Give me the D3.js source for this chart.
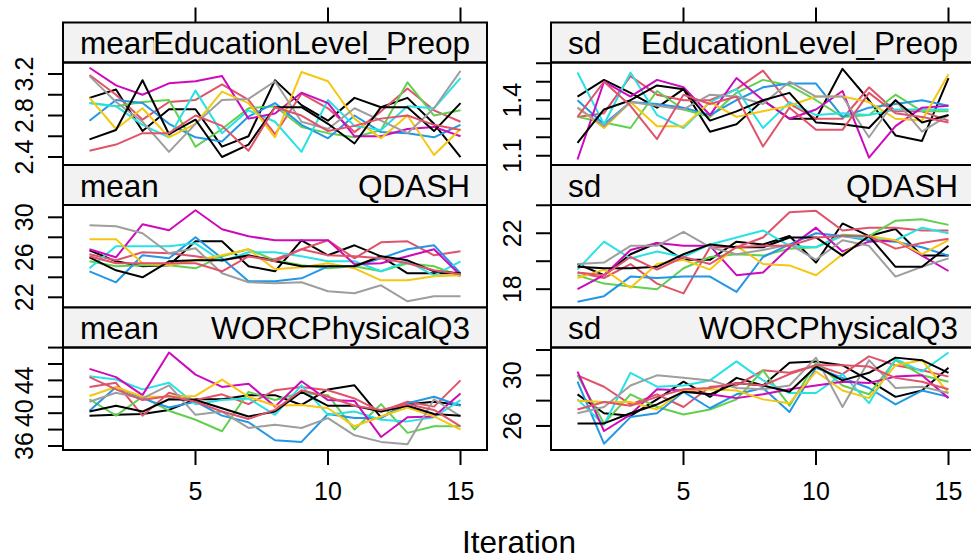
<!DOCTYPE html>
<html lang="en">
<head>
<meta charset="UTF-8">
<title>mice trace plot</title>
<script src="https://d3js.org/d3.v7.min.js"></script>
<style>
  body { margin: 0; background: #fff; }
  text { font-family: "Liberation Sans", Arial, Helvetica, sans-serif; fill: #000; }
</style>
</head>
<body>
<div id="chart"></div>
<script>
// ---- data ----
const iterations = d3.range(1, 16);
const lineColors = ["#000000", "#DF536B", "#61D04F", "#2297E6", "#28E2E5",
                    "#CD0BBC", "#F5C710", "#9E9E9E", "#000000", "#DF536B"];
const statNames = ["mean", "sd"];
const varNames = ["EducationLevel_Preop", "QDASH", "WORCPhysicalQ3"];
const xTicks = [5, 10, 15];

// one array per imputation (10), 15 iterations each
const meanEdu = [
  [2.97, 3.05, 2.65, 2.86, 2.86, 2.50, 2.60, 3.14, 2.90, 2.75, 2.97, 2.88, 2.97, 2.72, 2.40],
  [3.19, 3.00, 2.76, 2.93, 2.95, 3.10, 2.95, 2.62, 3.01, 2.87, 2.64, 2.84, 3.06, 2.85, 2.74],
  [2.92, 2.89, 2.93, 2.95, 2.50, 2.67, 2.87, 2.89, 2.69, 2.63, 2.59, 2.66, 3.12, 2.80, 2.85],
  [2.75, 2.95, 2.92, 2.72, 2.59, 2.55, 2.79, 2.92, 2.71, 2.58, 2.80, 2.64, 2.63, 2.59, 2.71],
  [2.92, 2.89, 2.71, 2.59, 3.04, 2.63, 2.85, 2.74, 2.45, 2.95, 2.70, 2.66, 2.89, 2.87, 3.16],
  [3.26, 3.09, 3.00, 3.11, 3.13, 3.18, 2.77, 2.82, 3.02, 2.92, 2.60, 2.60, 2.67, 2.69, 2.60],
  [2.97, 2.67, 2.87, 2.59, 2.72, 3.03, 2.92, 2.59, 3.22, 3.13, 2.77, 2.58, 2.80, 2.42, 2.67],
  [3.18, 2.93, 2.74, 2.45, 2.72, 2.95, 2.96, 3.13, 2.74, 2.67, 2.87, 2.75, 2.63, 2.87, 3.23],
  [2.57, 2.66, 3.14, 2.62, 2.76, 2.40, 2.52, 2.88, 2.88, 2.72, 2.53, 2.88, 2.88, 2.65, 2.92],
  [2.46, 2.52, 2.63, 2.63, 2.80, 2.70, 2.46, 2.88, 2.80, 2.65, 2.70, 2.77, 2.80, 2.71, 2.66]
];
const sdEdu = [
  [1.42, 1.51, 1.44, 1.36, 1.46, 1.23, 1.27, 1.40, 1.30, 1.30, 1.57, 1.40, 1.21, 1.18, 1.52],
  [1.31, 1.33, 1.53, 1.43, 1.40, 1.40, 1.46, 1.56, 1.38, 1.30, 1.30, 1.47, 1.34, 1.34, 1.29],
  [1.31, 1.28, 1.25, 1.45, 1.35, 1.31, 1.44, 1.51, 1.48, 1.40, 1.31, 1.32, 1.43, 1.34, 1.34],
  [1.40, 1.27, 1.39, 1.38, 1.36, 1.32, 1.40, 1.47, 1.49, 1.49, 1.31, 1.36, 1.38, 1.40, 1.37],
  [1.55, 1.27, 1.55, 1.32, 1.25, 1.39, 1.46, 1.25, 1.39, 1.32, 1.33, 1.32, 1.35, 1.35, 1.35],
  [1.08, 1.50, 1.42, 1.51, 1.47, 1.32, 1.52, 1.40, 1.30, 1.35, 1.45, 1.09, 1.26, 1.36, 1.37],
  [1.36, 1.25, 1.39, 1.26, 1.26, 1.39, 1.31, 1.34, 1.37, 1.42, 1.42, 1.39, 1.30, 1.29, 1.54],
  [1.36, 1.26, 1.39, 1.37, 1.35, 1.43, 1.42, 1.38, 1.50, 1.42, 1.42, 1.20, 1.40, 1.23, 1.32],
  [1.17, 1.35, 1.40, 1.48, 1.46, 1.29, 1.34, 1.40, 1.44, 1.28, 1.27, 1.25, 1.40, 1.28, 1.32],
  [1.31, 1.50, 1.37, 1.19, 1.43, 1.38, 1.42, 1.15, 1.36, 1.24, 1.24, 1.44, 1.33, 1.31, 1.28]
];
const meanQdash = [
  [26.7, 25.6, 25.1, 25.2, 27.6, 27.6, 25.1, 24.6, 27.7, 26.2, 27.2, 26.1, 24.4, 24.4, 24.4],
  [26.3, 25.7, 26.5, 26.4, 26.1, 25.7, 26.1, 25.8, 26.8, 27.7, 25.9, 27.5, 27.6, 26.2, 26.6],
  [25.6, 25.1, 25.2, 25.2, 24.9, 26.1, 26.8, 25.7, 25.2, 24.9, 25.1, 24.6, 25.4, 25.1, 24.1],
  [24.6, 23.5, 26.2, 25.9, 28.0, 25.9, 23.6, 23.6, 23.9, 25.1, 25.1, 25.9, 26.8, 27.2, 24.4],
  [24.9, 27.1, 27.1, 27.1, 27.4, 25.6, 26.5, 26.5, 26.1, 25.6, 25.6, 24.6, 25.6, 24.2, 25.6],
  [26.8, 26.0, 29.3, 28.7, 30.7, 28.8, 28.1, 27.7, 27.7, 27.7, 25.3, 25.4, 26.1, 26.8, 24.2],
  [27.8, 27.8, 25.4, 25.2, 25.7, 26.2, 26.8, 24.8, 25.0, 25.4, 24.9, 23.7, 23.7, 24.1, 24.2],
  [29.2, 29.1, 28.4, 26.4, 26.9, 24.4, 23.5, 23.4, 23.5, 22.6, 22.4, 23.2, 21.6, 22.1, 22.1],
  [26.0, 24.7, 24.0, 25.6, 25.7, 25.7, 26.2, 25.6, 25.1, 25.1, 25.1, 26.1, 25.7, 24.6, 24.4],
  [26.1, 25.4, 25.4, 25.4, 25.4, 24.6, 26.1, 25.6, 26.8, 26.2, 26.1, 25.9, 25.4, 24.7, 24.3]
];
const sdQdash = [
  [19.8, 19.0, 20.5, 21.3, 20.1, 20.1, 21.4, 21.2, 21.8, 19.9, 22.7, 21.8, 22.3, 20.4, 20.4],
  [19.2, 18.8, 19.8, 18.4, 17.7, 21.0, 21.0, 21.7, 23.5, 23.6, 22.2, 22.4, 22.4, 22.2, 22.2],
  [19.0, 18.4, 18.2, 18.0, 19.5, 20.3, 20.5, 20.4, 20.9, 21.0, 21.9, 21.8, 22.9, 23.0, 22.6],
  [17.1, 17.5, 18.9, 18.8, 18.9, 18.9, 17.8, 20.3, 21.2, 22.0, 21.8, 21.5, 21.4, 21.0, 20.4],
  [19.4, 21.4, 20.2, 20.7, 20.3, 21.2, 21.7, 22.2, 21.1, 21.0, 21.8, 21.6, 21.5, 22.4, 22.0],
  [18.0, 19.0, 20.8, 21.3, 21.1, 21.1, 19.0, 19.2, 21.0, 22.4, 20.7, 21.4, 21.5, 20.4, 19.3],
  [18.8, 19.4, 18.1, 19.8, 20.1, 19.4, 21.1, 19.8, 19.7, 19.0, 20.5, 21.8, 21.5, 20.5, 21.5],
  [19.8, 19.9, 21.1, 21.1, 22.1, 21.0, 20.5, 20.8, 21.2, 20.1, 21.5, 21.1, 18.9, 19.6, 20.2],
  [19.6, 19.5, 19.5, 19.6, 20.5, 21.2, 21.0, 21.0, 21.7, 21.7, 20.4, 21.8, 19.6, 19.6, 21.1],
  [19.2, 19.0, 20.3, 19.4, 20.3, 19.8, 21.0, 21.1, 21.1, 21.7, 21.8, 21.8, 20.9, 21.3, 21.6]
];
const meanWorc = [
  [39.7, 39.8, 39.9, 40.4, 41.7, 41.7, 42.2, 42.2, 41.0, 42.9, 43.4, 39.5, 41.1, 41.4, 41.0],
  [43.2, 43.7, 39.7, 42.5, 41.6, 42.3, 41.1, 42.8, 43.2, 42.8, 41.8, 40.2, 41.4, 40.8, 44.0],
  [41.7, 39.7, 42.0, 40.3, 39.2, 37.8, 42.6, 41.6, 42.5, 42.2, 38.0, 41.1, 37.6, 38.4, 38.4],
  [40.3, 43.2, 41.8, 40.7, 41.4, 39.7, 38.9, 36.7, 36.5, 39.9, 39.4, 39.4, 41.2, 42.0, 40.9],
  [44.5, 44.1, 42.9, 43.7, 41.1, 41.6, 41.8, 39.8, 43.4, 39.8, 40.2, 39.2, 39.0, 39.5, 41.6],
  [45.4, 44.4, 42.2, 47.4, 44.7, 43.2, 43.6, 40.8, 43.9, 41.6, 41.5, 37.1, 39.5, 39.6, 42.4],
  [42.1, 43.2, 42.0, 42.0, 42.1, 44.1, 42.0, 40.9, 41.0, 40.6, 38.4, 39.6, 40.7, 39.6, 38.0],
  [41.4, 42.5, 41.8, 43.4, 39.8, 40.2, 38.2, 38.6, 38.2, 39.4, 37.3, 36.5, 36.2, 41.7, 39.6],
  [40.2, 40.9, 40.2, 41.7, 41.6, 40.6, 39.6, 40.2, 42.6, 40.9, 40.9, 40.2, 40.9, 39.9, 39.7],
  [44.4, 42.9, 41.6, 42.1, 41.4, 40.2, 39.3, 40.4, 42.8, 42.0, 40.9, 40.4, 41.1, 40.4, 38.4]
];
const sdWorc = [
  [28.5, 27.0, 26.8, 28.1, 29.5, 28.3, 29.8, 29.2, 31.0, 31.1, 30.8, 29.6, 28.3, 28.8, 30.6],
  [30.0, 29.1, 27.7, 28.5, 27.5, 29.1, 29.2, 30.4, 30.2, 30.8, 30.1, 31.5, 30.8, 30.4, 29.9],
  [30.0, 26.2, 28.5, 27.5, 26.9, 27.3, 28.1, 30.4, 27.6, 31.0, 29.2, 28.5, 31.2, 30.0, 29.5],
  [29.5, 24.6, 26.7, 27.0, 28.7, 27.4, 28.5, 29.0, 27.1, 30.6, 29.8, 29.0, 27.7, 28.8, 28.3],
  [28.1, 26.1, 30.2, 29.1, 29.2, 29.6, 31.1, 29.6, 28.6, 28.6, 30.1, 27.8, 31.3, 30.3, 31.8],
  [30.3, 25.6, 26.9, 28.9, 28.8, 28.5, 28.2, 28.5, 28.9, 29.2, 29.5, 29.4, 29.9, 30.0, 28.2],
  [28.0, 27.9, 27.9, 27.3, 28.8, 28.9, 28.8, 28.1, 27.8, 30.3, 28.8, 28.2, 30.8, 31.2, 28.6],
  [27.0, 27.5, 29.2, 30.0, 29.8, 29.6, 29.0, 28.9, 29.2, 31.4, 27.5, 31.2, 29.0, 29.1, 28.6],
  [26.2, 26.2, 27.0, 27.7, 28.7, 28.5, 29.4, 29.2, 28.7, 30.7, 29.6, 30.2, 31.4, 31.2, 30.2],
  [27.3, 27.9, 27.6, 28.3, 28.9, 29.0, 29.4, 29.2, 30.1, 30.8, 30.8, 30.7, 29.8, 29.5, 28.9]
];

// y axis ticks and the labels lattice kept after its overlap check
const yTicksList = [
  [2.4, 2.6, 2.8, 3.0, 3.2], [1.1, 1.2, 1.3, 1.4, 1.5, 1.6],
  [22, 24, 26, 28, 30],      [18, 20, 22, 24],
  [36, 38, 40, 42, 44, 46, 48], [26, 28, 30, 32]
];
const yLabelsList = [
  ["2.4", "2.8", "3.2"], ["1.1", "1.4"],
  ["22", "26", "30"],    ["18", "22"],
  ["36", "40", "44"],    ["26", "30"]
];
const yLimits = [
  [2.323, 3.311], [1.050, 1.604],
  [20.98, 31.23], [16.69, 24.02],
  [35.51, 48.01], [24.1, 32.2]
];
const panelSeries = [meanEdu, sdEdu, meanQdash, sdQdash, meanWorc, sdWorc];

// ---- layout ----
const width = 971;
const height = 560;
const colLeft = [63, 551];
const panelW = 424;
const topY = 22.5;
const stripH = 40;
const panelH = 102.5;
const rowH = stripH + panelH;
const tickLen = 15;
const stripFill = "#F2F2F2";
const stripFont = 31.5;

const svg = d3.select("#chart").append("svg")
  .attr("width", width)
  .attr("height", height);

svg.append("rect").attr("width", width).attr("height", height).attr("fill", "#fff");

panelSeries.forEach((series, p) => {
  const row = Math.floor(p / 2);
  const col = p % 2;
  const x0 = colLeft[col];
  const sTop = topY + row * rowH;
  const pTop = sTop + stripH;
  const pBot = pTop + panelH;

  const x = d3.scaleLinear().domain([0, 16]).range([x0, x0 + panelW]);
  const y = d3.scaleLinear().domain(yLimits[p]).range([pBot, pTop]);

  const g = svg.append("g");

  // strip: stat on the left, variable on the right (its box hides what is under it)
  g.append("rect")
    .attr("x", x0).attr("y", sTop).attr("width", panelW).attr("height", stripH)
    .attr("fill", stripFill);
  g.append("text")
    .attr("x", x0 + 17).attr("y", sTop + 31.5)
    .attr("font-size", stripFont)
    .text(statNames[col]);
  const bg = g.append("rect").attr("fill", stripFill);
  const vt = g.append("text")
    .attr("x", x0 + panelW - 17).attr("y", sTop + 31.5)
    .attr("font-size", stripFont)
    .attr("text-anchor", "end")
    .text(varNames[row]);
  const bb = vt.node().getBBox();
  bg.attr("x", bb.x + 1).attr("y", sTop + 1)
    .attr("width", x0 + panelW - bb.x - 1).attr("height", stripH - 2);
  g.append("rect")
    .attr("x", x0).attr("y", sTop).attr("width", panelW).attr("height", stripH)
    .attr("fill", "none").attr("stroke", "#000").attr("stroke-width", 2);

  // lines
  const clipId = "clip" + p;
  svg.append("clipPath").attr("id", clipId)
    .append("rect").attr("x", x0).attr("y", pTop).attr("width", panelW).attr("height", panelH);

  const line = d3.line().x((d, i) => x(iterations[i])).y(d => y(d));
  g.append("g").attr("clip-path", `url(#${clipId})`)
    .selectAll("path")
    .data(series)
    .join("path")
    .attr("d", line)
    .attr("fill", "none")
    .attr("stroke", (d, i) => lineColors[i])
    .attr("stroke-width", 2)
    .attr("stroke-linejoin", "round");

  g.append("rect")
    .attr("x", x0).attr("y", pTop).attr("width", panelW).attr("height", panelH)
    .attr("fill", "none").attr("stroke", "#000").attr("stroke-width", 2);

  // y axis on the left of every panel
  g.selectAll("line.yt")
    .data(yTicksList[p])
    .join("line")
    .attr("x1", x0 - tickLen).attr("x2", x0)
    .attr("y1", d => y(d)).attr("y2", d => y(d))
    .attr("stroke", "#000").attr("stroke-width", 2);
  g.selectAll("text.yl")
    .data(yLabelsList[p])
    .join("text")
    .attr("transform", d => `translate(${x0 - 30},${y(+d)}) rotate(-90)`)
    .attr("text-anchor", "middle")
    .attr("font-size", 25)
    .text(d => d);

  // x ticks: top row above strips, bottom row below panels with labels
  if (row === 0) {
    g.selectAll("line.xt")
      .data(xTicks)
      .join("line")
      .attr("x1", d => x(d)).attr("x2", d => x(d))
      .attr("y1", sTop).attr("y2", sTop - tickLen)
      .attr("stroke", "#000").attr("stroke-width", 2);
  }
  if (row === 2) {
    g.selectAll("line.xb")
      .data(xTicks)
      .join("line")
      .attr("x1", d => x(d)).attr("x2", d => x(d))
      .attr("y1", pBot).attr("y2", pBot + tickLen)
      .attr("stroke", "#000").attr("stroke-width", 2);
    g.selectAll("text.xl")
      .data(xTicks)
      .join("text")
      .attr("x", d => x(d)).attr("y", pBot + 50)
      .attr("text-anchor", "middle")
      .attr("font-size", 25)
      .text(d => d);
  }
});

svg.append("text")
  .attr("x", 519).attr("y", 553)
  .attr("text-anchor", "middle")
  .attr("font-size", 31.5)
  .text("Iteration");
</script>
</body>
</html>
